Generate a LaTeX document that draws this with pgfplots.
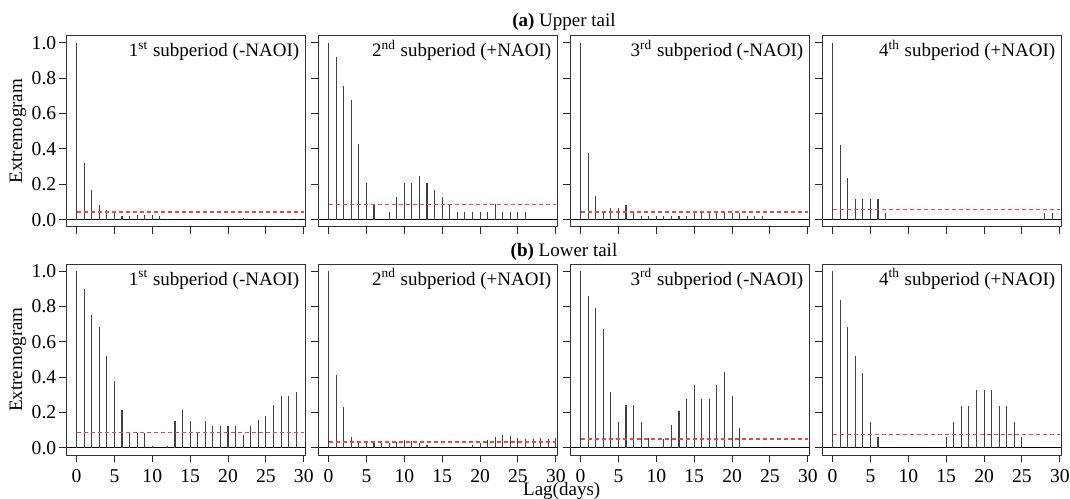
\documentclass[border=0pt]{standalone}
\usepackage{fontspec}
\setmainfont{Liberation Serif}
\usepackage{pgfplots}
\pgfplotsset{compat=1.18}
\usepgfplotslibrary{groupplots}
\usetikzlibrary{calc}
\definecolor{thr}{RGB}{232,72,72}
\newcommand{\fs}{\fontsize{9.5}{11}\selectfont}
\newcommand{\tfs}{\fontsize{9.8}{11}\selectfont}
\newcommand{\plab}[3]{\node[anchor=base east, inner sep=0pt, font=\fs] at ([xshift=-2.85pt,yshift=-10.5pt]rel axis cs:1,1) {#1\textsuperscript{#2} #3};}
\begin{document}
\begin{tikzpicture}
\begin{groupplot}[
  group style={group size=4 by 2, horizontal sep=6.7pt, vertical sep=18.65pt,
    xticklabels at=edge bottom, yticklabels at=edge left, ylabels at=edge left},
  scale only axis, width=119.3pt, height=95.5pt,
  xmin=-1.3, xmax=30.2, ymin=-0.04, ymax=1.04,
  xtick={0,5,10,15,20,25,30}, ytick={0,0.2,0.4,0.6,0.8,1.0},
  tick align=outside, xtick pos=bottom, ytick pos=left,
  major tick length=3.7pt,
  tick style={black!85, line width=0.5pt},
  axis line style={black!80, line width=0.5pt},
  tick label style={font=\tfs},
  /pgf/number format/assume math mode=true,
  xticklabel style={inner ysep=0pt, yshift=-3.27pt},
  yticklabel style={/pgf/number format/.cd, fixed, fixed zerofill, precision=1, /tikz/.cd, xshift=2pt},
  label style={font=\fs},
  ylabel style={at={(rel axis cs:-0.204,0.5)}, anchor=center},
  clip=false,
]
% ---------- (a) upper tail ----------
\nextgroupplot[ylabel={Extremogram}]
\addplot[black, line width=0.5pt] coordinates {(-1.3,0) (30.2,0)};
\addplot[ycomb, black!75, line width=0.55pt] table[row sep=\\] {
x y\\ 0 1.0\\ 1 0.32\\ 2 0.166\\ 3 0.081\\ 4 0.057\\ 5 0.036\\ 6 0.022\\ 7 0.022\\ 8 0.026\\ 9 0.026\\ 10 0.026\\ 11 0.022\\ 12 0.005\\ 19 0.005\\ 22 0.01\\ 23 0.005\\ 24 0.005\\ 28 0.005\\ 29 0.005\\
};
\addplot[thr, line width=0.6pt, dash pattern=on 2pt off 1.5pt] coordinates {(0,0.043) (30,0.043)};
\plab{1}{st}{subperiod (-NAOI)}
\nextgroupplot
\addplot[black, line width=0.5pt] coordinates {(-1.3,0) (30.2,0)};
\addplot[ycomb, black!75, line width=0.55pt] table[row sep=\\] {
x y\\ 0 1.0\\ 1 0.919\\ 2 0.758\\ 3 0.674\\ 4 0.426\\ 5 0.209\\ 6 0.087\\ 8 0.045\\ 9 0.128\\ 10 0.209\\ 11 0.209\\ 12 0.249\\ 13 0.209\\ 14 0.17\\ 15 0.128\\ 16 0.087\\ 17 0.045\\ 18 0.045\\ 19 0.045\\ 20 0.045\\ 21 0.045\\ 22 0.087\\ 23 0.045\\ 24 0.045\\ 25 0.045\\ 26 0.045\\
};
\addplot[thr, line width=0.6pt, dash pattern=on 2pt off 1.5pt] coordinates {(0,0.085) (30,0.085)};
\plab{2}{nd}{subperiod (+NAOI)}
\nextgroupplot
\addplot[black, line width=0.5pt] coordinates {(-1.3,0) (30.2,0)};
\addplot[ycomb, black!75, line width=0.55pt] table[row sep=\\] {
x y\\ 0 1.0\\ 1 0.374\\ 2 0.134\\ 3 0.051\\ 4 0.064\\ 5 0.064\\ 6 0.085\\ 7 0.051\\ 8 0.023\\ 9 0.023\\ 10 0.023\\ 11 0.023\\ 12 0.023\\ 13 0.023\\ 14 0.023\\ 15 0.036\\ 16 0.036\\ 17 0.036\\ 18 0.036\\ 19 0.036\\ 20 0.036\\ 21 0.036\\ 22 0.023\\ 23 0.023\\ 24 0.023\\
};
\addplot[thr, line width=0.6pt, dash pattern=on 2pt off 1.5pt] coordinates {(0,0.043) (30,0.043)};
\plab{3}{rd}{subperiod (-NAOI)}
\nextgroupplot
\addplot[black, line width=0.5pt] coordinates {(-1.3,0) (30.2,0)};
\addplot[ycomb, black!75, line width=0.55pt] table[row sep=\\] {
x y\\ 0 1.0\\ 1 0.423\\ 2 0.234\\ 3 0.117\\ 4 0.117\\ 5 0.117\\ 6 0.117\\ 7 0.04\\ 28 0.04\\ 29 0.04\\
};
\addplot[thr, line width=0.6pt, dash pattern=on 2pt off 1.5pt] coordinates {(0,0.058) (30,0.058)};
\plab{4}{th}{subperiod (+NAOI)}
% ---------- (b) lower tail ----------
\nextgroupplot[ylabel={Extremogram}]
\addplot[black, line width=0.5pt] coordinates {(-1.3,0) (30.2,0)};
\addplot[ycomb, black!75, line width=0.55pt] table[row sep=\\] {
x y\\ 0 1.0\\ 1 0.896\\ 2 0.753\\ 3 0.681\\ 4 0.519\\ 5 0.377\\ 6 0.215\\ 7 0.085\\ 8 0.085\\ 9 0.085\\ 10 0.011\\ 12 0.011\\ 13 0.151\\ 14 0.215\\ 15 0.151\\ 16 0.085\\ 17 0.151\\ 18 0.126\\ 19 0.126\\ 20 0.126\\ 21 0.126\\ 22 0.074\\ 23 0.126\\ 24 0.157\\ 25 0.181\\ 26 0.243\\ 27 0.296\\ 28 0.296\\ 29 0.319\\
};
\addplot[thr, line width=0.6pt, dash pattern=on 2pt off 1.5pt] coordinates {(0,0.085) (30,0.085)};
\plab{1}{st}{subperiod (-NAOI)}
\nextgroupplot
\addplot[black, line width=0.5pt] coordinates {(-1.3,0) (30.2,0)};
\addplot[ycomb, black!75, line width=0.55pt] table[row sep=\\] {
x y\\ 0 1.0\\ 1 0.413\\ 2 0.234\\ 3 0.064\\ 4 0.038\\ 5 0.032\\ 6 0.032\\ 7 0.026\\ 8 0.026\\ 9 0.032\\ 10 0.045\\ 11 0.038\\ 12 0.026\\ 13 0.015\\ 19 0.015\\ 20 0.026\\ 21 0.045\\ 22 0.064\\ 23 0.075\\ 24 0.068\\ 25 0.057\\ 26 0.053\\ 27 0.049\\ 28 0.057\\ 29 0.049\\ 30 0.057\\
};
\addplot[thr, line width=0.6pt, dash pattern=on 2pt off 1.5pt] coordinates {(0,0.034) (30,0.034)};
\plab{2}{nd}{subperiod (+NAOI)}
\nextgroupplot
\addplot[black, line width=0.5pt] coordinates {(-1.3,0) (30.2,0)};
\addplot[ycomb, black!75, line width=0.55pt] table[row sep=\\] {
x y\\ 0 1.0\\ 1 0.860\\ 2 0.789\\ 3 0.672\\ 4 0.317\\ 5 0.149\\ 6 0.240\\ 7 0.240\\ 8 0.149\\ 9 0.057\\ 11 0.051\\ 12 0.132\\ 13 0.211\\ 14 0.277\\ 15 0.358\\ 16 0.277\\ 17 0.277\\ 18 0.358\\ 19 0.432\\ 20 0.291\\ 21 0.115\\
};
\addplot[thr, line width=0.6pt, dash pattern=on 2pt off 1.5pt] coordinates {(0,0.051) (30,0.051)};
\plab{3}{rd}{subperiod (-NAOI)}
\nextgroupplot
\addplot[black, line width=0.5pt] coordinates {(-1.3,0) (30.2,0)};
\addplot[ycomb, black!75, line width=0.55pt] table[row sep=\\] {
x y\\ 0 1.0\\ 1 0.838\\ 2 0.683\\ 3 0.519\\ 4 0.426\\ 5 0.149\\ 6 0.064\\ 15 0.064\\ 16 0.149\\ 17 0.238\\ 18 0.238\\ 19 0.325\\ 20 0.325\\ 21 0.325\\ 22 0.238\\ 23 0.238\\ 24 0.149\\ 25 0.064\\
};
\addplot[thr, line width=0.6pt, dash pattern=on 2pt off 1.5pt] coordinates {(0,0.077) (30,0.077)};
\plab{4}{th}{subperiod (+NAOI)}
\end{groupplot}
\node[anchor=base, font=\fs, inner sep=0pt] at ($(group c2r1.north east)!0.5!(group c3r1.north west)+(0,4.4pt)$) {\textbf{(a)} Upper tail};
\node[anchor=base, font=\fs, inner sep=0pt] at ($(group c2r2.north east)!0.5!(group c3r2.north west)+(0,3.8pt)$) {\textbf{(b)} Lower tail};
\node[anchor=north, font=\fs, inner sep=0pt] at ($(group c1r1.north west)+(247.5pt,-223.3pt)$) {Lag(days)};
\pgfresetboundingbox
\path[use as bounding box] ($(group c1r1.north west)+(-33.35pt,17.85pt)$) rectangle ($(group c1r1.north west)+(501.65pt,-231.15pt)$);
\end{tikzpicture}
\end{document}
